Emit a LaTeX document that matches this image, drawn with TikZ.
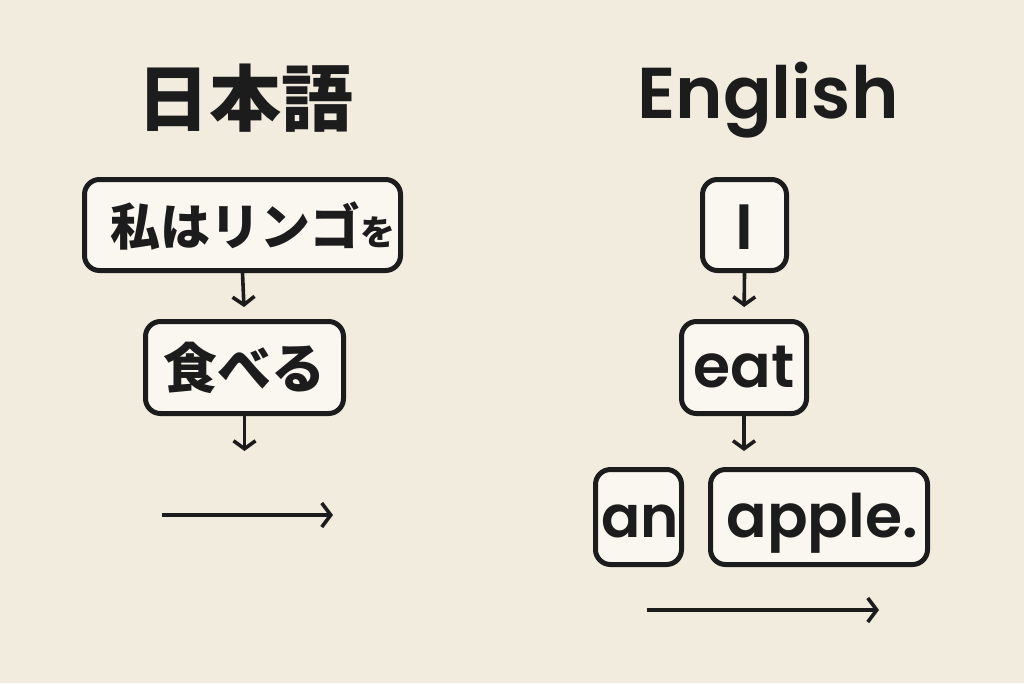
\documentclass[tikz,border=0pt]{standalone}
\usepackage{fontspec}
\setmainfont{Poppins}
\newfontfamily\engsb{Poppins SemiBold}
\newfontfamily\jp{Noto Sans CJK JP}
\usetikzlibrary{arrows.meta}
\definecolor{bg}{HTML}{F2ECDF}
\definecolor{boxfill}{HTML}{FAF7F0}
\definecolor{ink}{HTML}{1C1C1C}
\tikzset{
  wbox/.style={draw=ink, fill=boxfill, line width=5pt, rounded corners=15pt, inner sep=0pt, text=ink},
  vlink/.style={draw=ink, line width=3.6pt, -{Straight Barb[length=8pt,width=22pt,line width=3.6pt]}},
  hlink/.style={draw=ink, line width=3.6pt, -{Straight Barb[length=9pt,width=24pt,line width=3.6pt]}},
}
\begin{document}
\begin{tikzpicture}[x=1pt,y=-1pt]
\fill[bg] (0,0) rectangle (1024,683);
\useasboundingbox (0,0) rectangle (1024,683);
% titles
\node[text=ink, font=\jp\bfseries\fontsize{72}{80}\selectfont] (tjp) at (245,98) {日本語};
\node[text=ink, font=\engsb\fontsize{72}{80}\selectfont] (ten) at (768,100) {English};
% Japanese column
\node[wbox, minimum width=316pt, minimum height=91pt] (j1) at (242.5,225) {};
\node[text=ink, font=\jp\bfseries\fontsize{50}{60}\selectfont, anchor=base] (j1t) at (253,245) {私はリンゴ{\fontsize{35}{40}\selectfont を}};
\node[wbox, minimum width=198pt, minimum height=92pt] (j2) at (244.5,367.5) {};
\node[text=ink, font=\jp\bfseries\fontsize{54}{60}\selectfont, anchor=base] (j2t) at (244,388) {食べる};
\draw[vlink, shorten >=12pt] (j1.south) -- (j2.north);
\coordinate (j2end) at (244.5,451);
\draw[vlink] (j2.south) -- (j2end);
\coordinate (jh1) at (162,515);
\coordinate (jh2) at (333,515);
\draw[hlink] (jh1) -- (jh2);
% English column
\node[wbox, minimum width=84pt, minimum height=91pt] (e1) at (744.5,225) {};
\node[text=ink, font=\engsb\fontsize{64}{70}\selectfont, anchor=base] (e1t) at (744.5,249) {I};
\node[wbox, minimum width=125pt, minimum height=92pt] (e2) at (744,367.5) {};
\node[text=ink, font=\engsb\fontsize{60}{70}\selectfont, anchor=base] (e2t) at (744,387) {eat};
\draw[vlink, shorten >=12pt] (e1.south) -- (e2.north);
\coordinate (e2end) at (744,451);
\draw[vlink] (e2.south) -- (e2end);
\node[wbox, minimum width=86pt, minimum height=95pt] (e3) at (638.5,517) {};
\node[text=ink, font=\engsb\fontsize{58}{70}\selectfont, anchor=base] (e3t) at (640,537) {an};
\node[wbox, minimum width=217pt, minimum height=95pt] (e4) at (819,517) {};
\node[text=ink, font=\engsb\fontsize{60}{70}\selectfont, anchor=base] (e4t) at (822,537) {apple.};
\coordinate (eh1) at (647,610);
\coordinate (eh2) at (879,610);
\draw[hlink] (eh1) -- (eh2);
\end{tikzpicture}
\end{document}
